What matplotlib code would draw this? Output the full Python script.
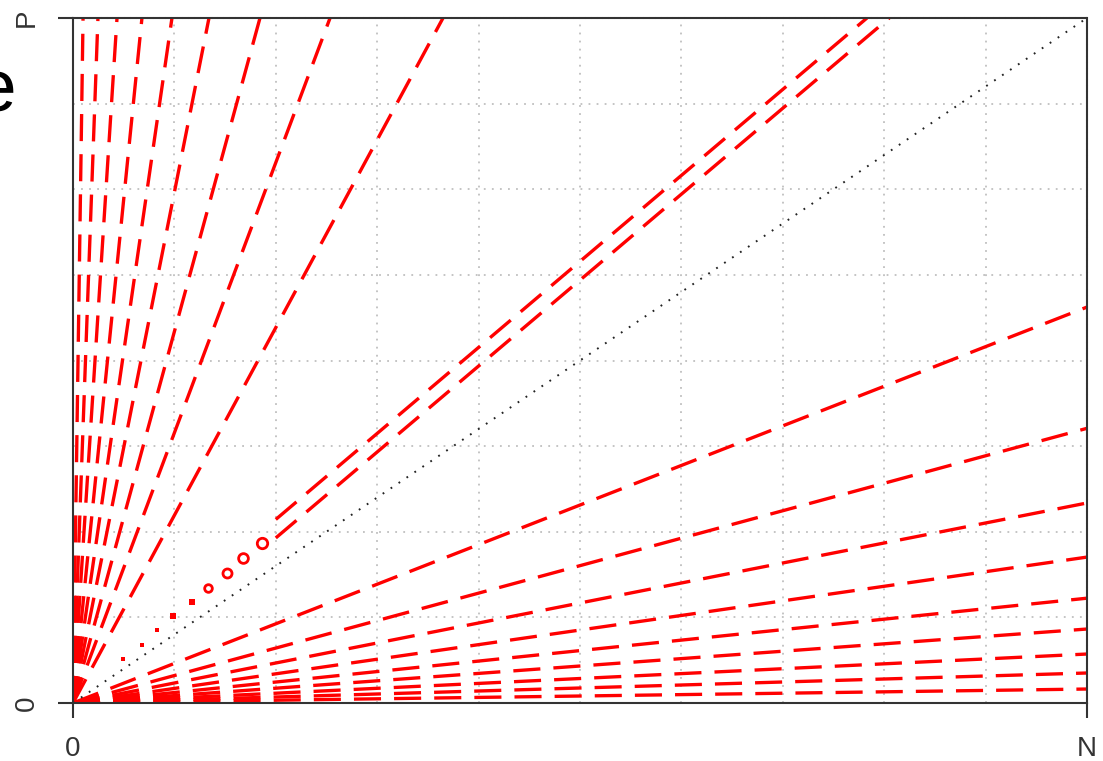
#!/usr/bin/env python

import numpy as np
import matplotlib
matplotlib.use('Agg')
import matplotlib.pyplot as plt

plt.rcParams['font.family'] = ['Liberation Sans', 'DejaVu Sans']
plt.rcParams['lines.scale_dashes'] = False

###########################
## data (N and P scaled to 1)

## lines from the origin that leave through the top (P = 1), x where they meet it
top_x = [0.0099, 0.0246, 0.0434, 0.068, 0.0976, 0.1341, 0.1844, 0.2535, 0.3649]

## lines from the origin that leave through the right side (N = 1), y where they meet it
right_y = [0.578, 0.401, 0.292, 0.213, 0.153, 0.108, 0.0715, 0.0438, 0.0204]

## the pair of parallel lines close to the diagonal: start and end points
pair_x0 = [0.200, 0.200]
pair_y0 = [0.268, 0.241]
pair_x1 = [0.783, 0.805]
pair_y1 = [1.0, 1.0]

## small loop marks between the origin and the pair
loop_x = [0.049, 0.068, 0.083, 0.099, 0.117, 0.133, 0.152, 0.168, 0.186]
loop_y = [0.064, 0.085, 0.107, 0.127, 0.147, 0.168, 0.190, 0.212, 0.234]
loop_size = [2.5, 3.0, 3.5, 4.5, 5.0, 5.5, 6.5, 7.0, 7.5]
loop_open = [False, False, False, False, False, True, True, True, True]

x_ticklabels = ['0', 'N']
y_ticklabels = ['0', 'P']

###########################

W, H = 1103, 761
fig = plt.figure(figsize=(W / 100, H / 100), dpi=100)
ax = fig.add_axes([73 / W, 1 - 703 / H, (1087 - 73) / W, (703 - 18) / H])

red = '#ff0000'
dash = (0, (19.5, 9.4))
lw = 2.4

for x in top_x:
    ax.plot([0, x], [0, 1], color=red, lw=lw, linestyle=dash,
            solid_capstyle='butt', dash_capstyle='butt', clip_on=True)

for y in right_y:
    ax.plot([0, 1], [0, y], color=red, lw=lw, linestyle=dash,
            dash_capstyle='butt', clip_on=True)

for i in range(len(pair_x0)):
    ax.plot([pair_x0[i], pair_x1[i]], [pair_y0[i], pair_y1[i]], color=red,
            lw=lw, linestyle=dash, dash_capstyle='butt')

for x, y, s, o in zip(loop_x, loop_y, loop_size, loop_open):
    if o:
        ax.plot(x, y, marker='o', ms=s, mfc='white', mec=red, mew=2.0)
    else:
        ax.plot(x, y, marker='s', ms=s, mfc=red, mec=red, mew=0)

## diagonal
ax.plot([0, 1], [0, 1], color='#222222', lw=1.4, linestyle=(0, (1.3, 5.6)))

ax.set_xlim(0, 1)
ax.set_ylim(0, 1)

## grid on minor ticks
ax.set_xticks(np.arange(1, 10) / 10, minor=True)
ax.set_yticks(np.arange(1, 8) / 8, minor=True)
ax.grid(which='minor', color='#c4c4c4', lw=1.4, linestyle=(0, (1.3, 4.5)))
ax.tick_params(which='minor', length=0)
ax.set_axisbelow(True)

ax.set_xticks([0, 1])
ax.set_yticks([0, 1])
ax.set_xticklabels(x_ticklabels)
ax.set_yticklabels(y_ticklabels, rotation=90, va='center')
ax.tick_params(which='major', length=11, width=1.5, color='#333333',
               labelsize=20, labelcolor='#333333', pad=13)

for side in ['left', 'bottom']:
    ax.spines[side].set_color('#333333')
    ax.spines[side].set_linewidth(1.5)
for side in ['top', 'right']:
    ax.spines[side].set_color('#333333')
    ax.spines[side].set_linewidth(1.5)
    ax.spines[side].set_linestyle((0, (2.8, 1.4)))

## piece of a label cut off by the left edge
fig.text(17 / W, 1 - 112 / H, 'e', ha='right', va='baseline',
         fontsize=54, color='black')

fig.savefig('out.png', dpi=100)
